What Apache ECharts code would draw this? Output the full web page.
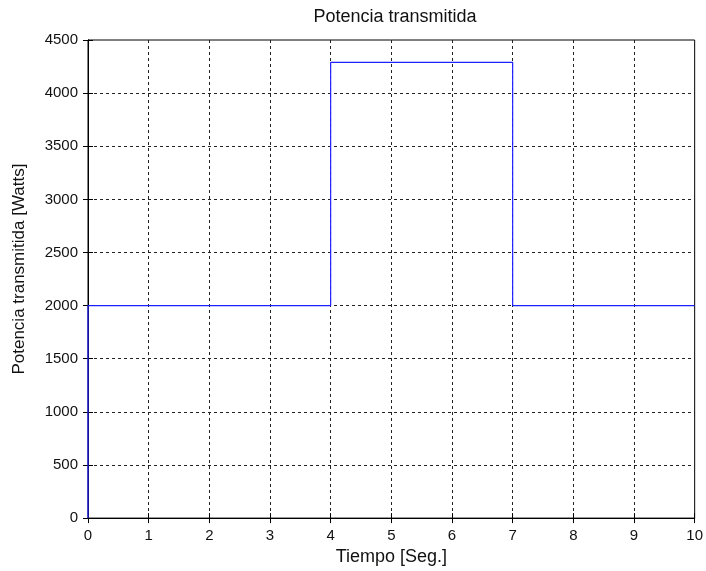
<!DOCTYPE html>
<html><head><meta charset="utf-8">
<script src="https://cdn.jsdelivr.net/npm/echarts@6/dist/echarts.min.js"></script>
<style>html,body{margin:0;padding:0;background:#fff}#c{width:706px;height:571px}</style>
</head><body><div id="c"></div>
<script>
const timeValues = [0, 0, 4, 4, 7, 7, 10];
const powerValues = [0, 2000, 2000, 4290, 4290, 2000, 2000];
const titleText = 'Potencia transmitida';
const xLabel = 'Tiempo [Seg.]';
const yLabel = 'Potencia transmitida [Watts]';

const font = 'Liberation Sans, Arial, sans-serif';
const chart = echarts.init(document.getElementById('c'));
const gridLine = {show: true, showMinLine: false, showMaxLine: false, lineStyle: {color: '#222', type: [3, 3], width: 1}};
const axisLine = {show: true, lineStyle: {color: '#000', width: 1}};
const ticksIn = {show: true, inside: true, length: 5, lineStyle: {color: '#000'}};
chart.setOption({
  animation: false,
  backgroundColor: '#fff',
  title: {text: titleText, left: 390, textAlign: 'center', top: 3,
    textStyle: {fontFamily: font, fontSize: 18, fontWeight: 'normal', color: '#111'}},
  grid: {left: 88, right: 9, top: 40, bottom: 51, containLabel: false,
    show: true, borderColor: '#000', borderWidth: 1, backgroundColor: 'transparent'},
  xAxis: [{
    type: 'value', min: 0, max: 10, interval: 1, position: 'bottom',
    name: xLabel, nameLocation: 'middle', nameGap: 28,
    nameTextStyle: {fontFamily: font, fontSize: 18, color: '#111'},
    axisLine: axisLine, axisTick: ticksIn, splitLine: gridLine,
    axisLabel: {fontFamily: font, fontSize: 15, color: '#111', margin: 10, formatter: v => String(v)}
  }, {
    type: 'value', min: 0, max: 10, interval: 1, position: 'top',
    axisLine: axisLine, axisTick: ticksIn, splitLine: {show: false}, axisLabel: {show: false}
  }],
  yAxis: [{
    type: 'value', min: 0, max: 4500, interval: 500, position: 'left',
    name: yLabel, nameLocation: 'middle', nameGap: 60, nameRotate: 90,
    nameTextStyle: {fontFamily: font, fontSize: 17, color: '#111', padding: [0, 0, 0, 20]},
    axisLine: axisLine, axisTick: ticksIn, splitLine: gridLine,
    axisLabel: {fontFamily: font, fontSize: 15, color: '#111', margin: 10, formatter: v => String(v)}
  }, {
    type: 'value', min: 0, max: 4500, interval: 500, position: 'right',
    axisLine: axisLine, axisTick: ticksIn, splitLine: {show: false}, axisLabel: {show: false}
  }],
  series: [{
    type: 'line', xAxisIndex: 0, yAxisIndex: 0,
    data: timeValues.map((t, i) => [t, powerValues[i]]),
    showSymbol: false, symbol: 'none',
    lineStyle: {color: '#2020ff', width: 1.2}
  }]
});
</script></body></html>
